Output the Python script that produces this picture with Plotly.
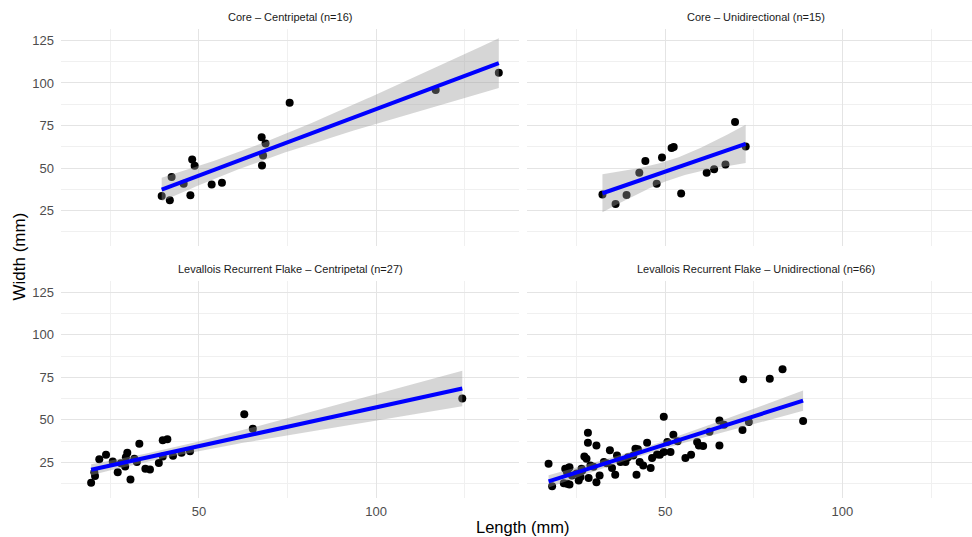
import math
import numpy as np
import plotly.graph_objects as go

# ---------------- data ----------------
panel_titles = [
    "Core \u2013 Centripetal (n=16)",
    "Core \u2013 Unidirectional (n=15)",
    "Levallois Recurrent Flake \u2013 Centripetal (n=27)",
    "Levallois Recurrent Flake \u2013 Unidirectional (n=66)",
]

core_cp_length = [39.5, 41.8, 42.3, 45.7, 47.6, 48.1, 48.8, 53.6, 56.5, 67.7,
                  68.8, 68.1, 67.8, 75.6, 116.8, 134.6]
core_cp_width = [33.6, 31.1, 44.8, 40.7, 34.0, 55.0, 51.3, 40.3, 41.3, 68.1,
                 64.4, 57.4, 51.5, 88.3, 95.8, 106.0]

core_ud_length = [32.3, 36.0, 39.1, 42.7, 44.4, 47.6, 49.1, 51.8, 52.4, 54.5,
                  61.7, 63.8, 67.0, 69.7, 72.7]
core_ud_width = [34.4, 28.9, 34.2, 47.2, 54.2, 40.7, 56.2, 61.7, 62.3, 35.0,
                 47.2, 49.3, 52.1, 77.0, 62.6]

lrf_cp_length = [19.6, 20.7, 20.5, 21.9, 23.8, 25.7, 27.1, 29.8, 29.4, 29.2,
                 30.7, 31.8, 32.5, 33.2, 34.9, 36.2, 38.7, 39.8, 41.1, 39.8,
                 42.7, 45.1, 47.5, 62.8, 65.2, 124.3, 28.0]
lrf_cp_width = [13.0, 17.0, 19.3, 26.8, 29.5, 25.6, 19.3, 30.7, 28.1, 22.6,
                15.0, 27.2, 25.2, 36.0, 21.3, 20.9, 24.6, 38.0, 38.6, 28.5,
                28.9, 30.7, 31.5, 53.3, 44.8, 62.5, 24.5]

lrf_ud_length = [17.1, 18.1, 21.4, 22.3, 23.0, 21.8, 22.8, 22.3, 23.7, 25.6,
                 26.1, 26.4, 27.2, 27.8, 28.2, 28.2, 28.4, 28.9, 30.6, 30.6,
                 31.5, 32.7, 34.4, 35.0, 35.9, 36.4, 37.4, 38.8, 41.0, 41.6,
                 41.9, 42.8, 43.8, 44.9, 45.9, 46.3, 47.7, 49.6, 49.6, 50.6,
                 51.5, 52.3, 55.7, 57.3, 59.0, 59.5, 60.7, 65.3, 65.3, 66.6,
                 71.8, 72.0, 73.6, 79.5, 83.1, 88.9, 23.0, 26.6, 42.3, 48.5,
                 25.0, 33.5, 39.5, 53.5, 62.5, 29.8]
lrf_ud_width = [24.2, 11.0, 12.8, 12.4, 12.0, 21.3, 21.9, 19.3, 17.3, 14.4,
                16.4, 21.3, 28.5, 27.2, 42.5, 36.6, 15.8, 23.2, 35.0, 13.4,
                17.3, 25.2, 32.1, 21.7, 17.7, 29.1, 25.2, 25.2, 29.1, 33.1,
                17.7, 25.2, 23.2, 36.6, 21.7, 27.6, 29.7, 51.9, 31.1, 37.0,
                31.1, 41.3, 27.6, 29.5, 37.0, 35.0, 34.6, 35.0, 49.6, 47.2,
                44.1, 73.9, 48.8, 74.1, 79.8, 49.4, 22.2, 20.3, 32.7, 29.5,
                18.5, 24.5, 28.0, 37.5, 43.0, 22.5]

x_major = [50, 100]
x_minor = [25, 75, 125]
y_major = [25, 50, 75, 100, 125]
y_minor = [12.5, 37.5, 62.5, 87.5, 112.5]

groups = [
    (core_cp_length, core_cp_width),
    (core_ud_length, core_ud_width),
    (lrf_cp_length, lrf_cp_width),
    (lrf_ud_length, lrf_ud_width),
]


# ---------------- stats helpers (lm fit + 95% CI like geom_smooth) ----------------
def t_ppf975(df):
    grid = np.linspace(0, 20, 200001)
    logc = math.lgamma((df + 1) / 2) - math.lgamma(df / 2) - 0.5 * math.log(df * math.pi)
    pdf = np.exp(logc) * (1 + grid ** 2 / df) ** (-(df + 1) / 2)
    cdf = 0.5 + np.concatenate([[0], np.cumsum((pdf[1:] + pdf[:-1]) / 2 * np.diff(grid))])
    return float(np.interp(0.975, cdf, grid))


def smooth(xs, ys, npts=80):
    x = np.asarray(xs, float)
    y = np.asarray(ys, float)
    n = len(x)
    b, a = np.polyfit(x, y, 1)
    resid = y - (a + b * x)
    s = math.sqrt(np.sum(resid ** 2) / (n - 2))
    xbar = x.mean()
    sxx = np.sum((x - xbar) ** 2)
    xg = np.linspace(x.min(), x.max(), npts)
    yg = a + b * xg
    se = s * np.sqrt(1 / n + (xg - xbar) ** 2 / sxx)
    t = t_ppf975(n - 2)
    return xg, yg, yg - t * se, yg + t * se


# ---------------- figure ----------------
W, H = 972, 537
ML, MR, MT, MB = 61, 0, 29, 39
plot_w = W - ML - MR
plot_h = H - MT - MB

left_px = (0, 458)            # panel extents in plot-area pixels
right_px = (466.3, 911)
top_dom = [0.537, 1.0]
bot_dom = [0.0, 0.463]

x_lo = 11.1
px_per_unit = 3.545
left_range = [x_lo, x_lo + (left_px[1] - left_px[0]) / px_per_unit]
right_range = [x_lo, x_lo + (right_px[1] - right_px[0]) / px_per_unit]
y_range = [4.1, 131.7]

left_dom = [left_px[0] / plot_w, left_px[1] / plot_w]
right_dom = [right_px[0] / plot_w, 1.0]

fig = go.Figure()

axis_ids = [("x", "y"), ("x2", "y2"), ("x3", "y3"), ("x4", "y4")]
for (xs, ys), (xa, ya) in zip(groups, axis_ids):
    fig.add_trace(go.Scatter(x=xs, y=ys, mode="markers", xaxis=xa, yaxis=ya,
                             marker=dict(color="black", size=8, line=dict(width=0)),
                             showlegend=False, hoverinfo="x+y"))
    xg, yg, lo, hi = smooth(xs, ys)
    fig.add_trace(go.Scatter(x=np.concatenate([xg, xg[::-1]]),
                             y=np.concatenate([hi, lo[::-1]]),
                             mode="lines", fill="toself", xaxis=xa, yaxis=ya,
                             fillcolor="rgba(153,153,153,0.4)", line=dict(width=0),
                             showlegend=False, hoverinfo="skip"))
    fig.add_trace(go.Scatter(x=xg, y=yg, mode="lines", xaxis=xa, yaxis=ya,
                             line=dict(color="#0000FF", width=4),
                             showlegend=False, hoverinfo="skip"))

FONT = "Liberation Sans, Arial, sans-serif"
tick_font = dict(family=FONT, size=13, color="#4D4D4D")
grid_major = "#E4E4E4"
grid_minor = "#F0F0F0"


def xaxis_cfg(dom, rng, anchor, show_labels):
    return dict(domain=dom, range=rng, anchor=anchor, tickvals=x_major,
                ticktext=[str(v) for v in x_major], showticklabels=show_labels,
                showgrid=True, gridcolor=grid_major, gridwidth=1.2, zeroline=False,
                showline=False, ticks="", tickfont=tick_font, ticklabelstandoff=4,
                automargin=False,
                minor=dict(tickvals=x_minor, showgrid=True, gridcolor=grid_minor, gridwidth=1),
                fixedrange=True)


def yaxis_cfg(dom, anchor, show_labels):
    return dict(domain=dom, range=y_range, anchor=anchor, tickvals=y_major,
                ticktext=[str(v) for v in y_major], showticklabels=show_labels,
                showgrid=True, gridcolor=grid_major, gridwidth=1.2, zeroline=False,
                showline=False, ticks="", tickfont=tick_font, ticklabelstandoff=6,
                automargin=False,
                minor=dict(tickvals=y_minor, showgrid=True, gridcolor=grid_minor, gridwidth=1),
                fixedrange=True)


fig.update_layout(
    width=W, height=H,
    margin=dict(l=ML, r=MR, t=MT, b=MB, autoexpand=False),
    paper_bgcolor="white", plot_bgcolor="white",
    font=dict(family=FONT, color="#1A1A1A"),
    xaxis=xaxis_cfg(left_dom, left_range, "y", False),
    yaxis=yaxis_cfg(top_dom, "x", True),
    xaxis2=xaxis_cfg(right_dom, right_range, "y2", False),
    yaxis2=yaxis_cfg(top_dom, "x2", False),
    xaxis3=xaxis_cfg(left_dom, left_range, "y3", True),
    yaxis3=yaxis_cfg(bot_dom, "x3", True),
    xaxis4=xaxis_cfg(right_dom, right_range, "y4", True),
    yaxis4=yaxis_cfg(bot_dom, "x4", False),
)

# facet strip titles (centred on the full-width panel)
panel_w_frac = left_dom[1] - left_dom[0]
centers = [left_dom[0] + panel_w_frac / 2, right_dom[0] + panel_w_frac / 2]
annos = []
for i, title in enumerate(panel_titles):
    cx = centers[i % 2]
    dom = top_dom if i < 2 else bot_dom
    annos.append(dict(text=title, x=cx, y=dom[1], xref="paper", yref="paper",
                      xanchor="center", yanchor="middle", yshift=12, showarrow=False,
                      font=dict(family=FONT, size=11, color="#1A1A1A")))

annos.append(dict(text="Length (mm)", x=(523 - ML) / plot_w, y=0, xref="paper", yref="paper",
                  xanchor="center", yanchor="middle", yshift=-(527 - (H - MB)),
                  showarrow=False, font=dict(family=FONT, size=16.5, color="black")))
annos.append(dict(text="Width (mm)", x=0, y=(H - MB - 257) / plot_h, xref="paper", yref="paper",
                  xanchor="center", yanchor="middle", xshift=-(ML - 18.5), textangle=-90,
                  showarrow=False, font=dict(family=FONT, size=17, color="black")))
fig.update_layout(annotations=annos)

fig.write_html("out.html",
               config={"displayModeBar": False},
               post_script="document.body.style.margin='0';document.body.style.overflow='hidden';")
